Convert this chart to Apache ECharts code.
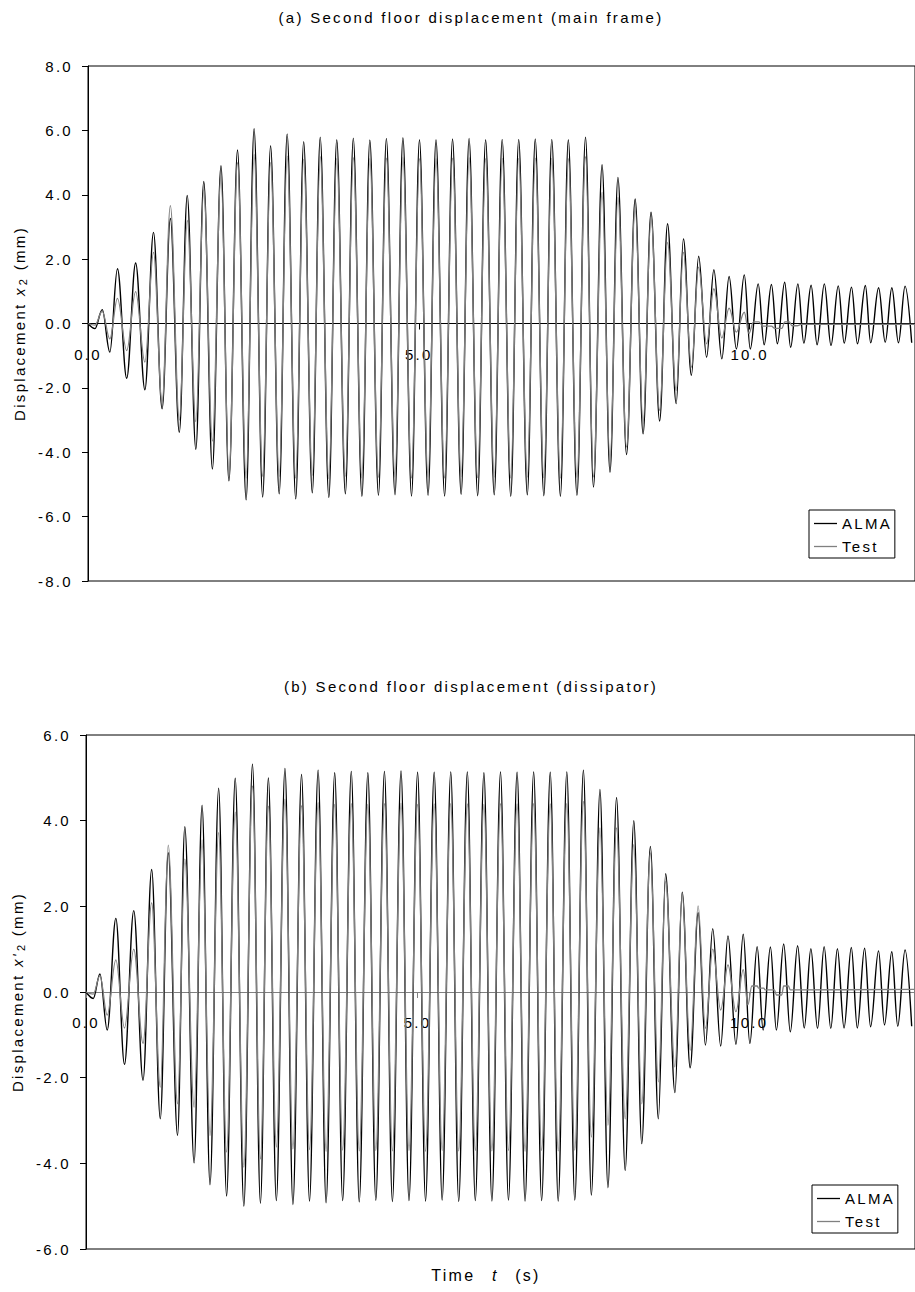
<!DOCTYPE html>
<html>
<head>
<meta charset="utf-8">
<script src="https://cdn.jsdelivr.net/npm/echarts@6/dist/echarts.min.js"></script>
<style>
html,body{margin:0;padding:0;background:#fff;}
#c{width:915px;height:1292px;}
#c text{letter-spacing:2.3px;}
</style>
</head>
<body>
<div id="c"></div>
<script>
// ---- data: [time (s), displacement (mm)] at extrema ----
const TITLE_A = '(a) Second floor displacement (main frame)';
const TITLE_B = '(b) Second floor displacement (dissipator)';
const SERIES_NAMES = ['ALMA', 'Test'];
const X_TICKS = [0, 5, 10];

const A_ALMA = [[0,0],[0.105,-0.16],[0.215,0.43],[0.33,-0.89],[0.445,1.70],[0.585,-1.70],[0.72,1.88],[0.86,-2.06],[0.99,2.83],[1.12,-2.65],[1.245,3.26],[1.38,-3.38],[1.50,3.98],[1.63,-3.91],[1.75,4.41],[1.88,-4.52],[2.01,4.90],[2.13,-4.89],[2.26,5.39],[2.39,-5.48],[2.51,6.05],[2.64,-5.39],[2.76,5.52],[2.89,-5.29],[3.01,5.89],[3.14,-5.45],[3.26,5.65],[3.39,-5.26],[3.51,5.79],[3.64,-5.41],[3.76,5.71],[3.89,-5.29],[4.01,5.76],[4.14,-5.37],[4.26,5.70],[4.39,-5.34],[4.51,5.75],[4.64,-5.32],[4.76,5.77],[4.89,-5.36],[5.01,5.71],[5.14,-5.34],[5.26,5.71],[5.39,-5.36],[5.51,5.73],[5.64,-5.31],[5.76,5.75],[5.89,-5.35],[6.01,5.71],[6.14,-5.32],[6.26,5.72],[6.39,-5.37],[6.51,5.72],[6.64,-5.32],[6.76,5.73],[6.89,-5.35],[7.01,5.72],[7.14,-5.37],[7.26,5.71],[7.39,-5.34],[7.52,5.79],[7.64,-5.08],[7.77,4.93],[7.89,-4.62],[8.01,4.54],[8.14,-4.07],[8.27,3.87],[8.39,-3.43],[8.51,3.46],[8.64,-3.03],[8.76,3.10],[8.89,-2.49],[9.00,2.63],[9.12,-1.61],[9.23,2.09],[9.35,-1.05],[9.46,1.67],[9.58,-1.10],[9.69,1.46],[9.80,-0.79],[9.92,1.51],[10.01,-0.79],[10.13,1.23],[10.22,-0.66],[10.33,1.21],[10.42,-0.63],[10.53,1.28],[10.62,-0.74],[10.73,1.23],[10.82,-0.61],[10.93,1.19],[11.02,-0.66],[11.13,1.23],[11.23,-0.68],[11.34,1.17],[11.43,-0.61],[11.54,1.13],[11.63,-0.63],[11.75,1.18],[11.83,-0.60],[11.95,1.11],[12.05,-0.58],[12.15,1.11],[12.25,-0.60],[12.35,1.16],[12.45,-0.60]];

const A_TEST = [[0,0],[0.105,-0.05],[0.215,0.38],[0.33,-0.48],[0.445,0.78],[0.585,-0.84],[0.72,0.99],[0.86,-1.20],[0.99,2.21],[1.12,-2.45],[1.245,3.66],[1.38,-3.00],[1.50,3.20],[1.63,-3.05],[1.75,4.15],[1.88,-3.65],[2.01,4.60],[2.13,-4.75],[2.26,5.00],[2.39,-4.80],[2.51,5.25],[2.64,-4.75],[2.76,5.00],[2.89,-4.75],[3.01,5.20],[3.14,-4.80],[3.26,5.10],[3.39,-4.72],[3.51,5.18],[3.64,-4.82],[3.76,5.12],[3.89,-4.75],[4.01,5.15],[4.14,-4.80],[4.26,5.12],[4.39,-4.78],[4.51,5.14],[4.64,-4.77],[4.76,5.16],[4.89,-4.80],[5.01,5.12],[5.14,-4.78],[5.26,5.12],[5.39,-4.80],[5.51,5.14],[5.64,-4.76],[5.76,5.15],[5.89,-4.79],[6.01,5.12],[6.14,-4.77],[6.26,5.13],[6.39,-4.80],[6.51,5.13],[6.64,-4.77],[6.76,5.14],[6.89,-4.79],[7.01,5.13],[7.14,-4.80],[7.26,5.12],[7.39,-4.78],[7.52,5.18],[7.64,-4.77],[7.77,4.08],[7.89,-4.30],[8.01,3.92],[8.14,-3.84],[8.27,3.61],[8.39,-3.12],[8.51,3.30],[8.64,-2.70],[8.76,2.52],[8.89,-2.08],[9.00,2.21],[9.12,-1.36],[9.23,1.75],[9.35,-0.63],[9.46,1.08],[9.58,-0.45],[9.69,0.48],[9.80,-0.27],[9.92,0.35],[9.99,-0.31],[10.06,0.05],[10.14,0.05],[10.20,-0.08],[10.33,-0.08],[10.38,-0.15],[10.49,-0.15],[10.53,0.05],[10.60,0.05],[10.64,-0.07],[10.72,-0.07],[10.78,-0.03],[12.50,-0.03]];

const B_ALMA = [[0,0],[0.11,-0.15],[0.21,0.42],[0.32,-0.89],[0.45,1.72],[0.58,-1.69],[0.72,1.90],[0.86,-2.06],[0.99,2.86],[1.12,-2.96],[1.24,3.25],[1.38,-3.35],[1.49,3.86],[1.63,-3.99],[1.75,4.36],[1.87,-4.50],[2.00,4.76],[2.12,-4.76],[2.25,4.99],[2.38,-5.00],[2.51,5.32],[2.63,-4.93],[2.75,5.00],[2.87,-4.87],[3.00,5.22],[3.12,-4.96],[3.25,5.08],[3.37,-4.88],[3.50,5.18],[3.62,-4.92],[3.75,5.12],[3.87,-4.87],[4.00,5.15],[4.12,-4.90],[4.25,5.12],[4.37,-4.86],[4.50,5.15],[4.62,-4.89],[4.75,5.16],[4.87,-4.87],[5.00,5.13],[5.12,-4.88],[5.25,5.13],[5.37,-4.86],[5.50,5.14],[5.62,-4.89],[5.75,5.14],[5.87,-4.87],[6.00,5.12],[6.12,-4.88],[6.25,5.14],[6.37,-4.86],[6.50,5.13],[6.62,-4.88],[6.75,5.14],[6.87,-4.87],[7.00,5.13],[7.12,-4.88],[7.25,5.14],[7.37,-4.86],[7.50,5.18],[7.62,-4.74],[7.75,4.73],[7.87,-4.57],[8.00,4.54],[8.13,-4.17],[8.26,4.00],[8.38,-3.54],[8.51,3.40],[8.63,-2.96],[8.74,2.76],[8.88,-2.35],[8.99,2.33],[9.11,-1.77],[9.23,1.85],[9.34,-1.24],[9.45,1.48],[9.57,-1.26],[9.68,1.31],[9.80,-1.22],[9.91,1.35],[10.01,-1.20],[10.12,1.06],[10.21,-0.89],[10.32,1.05],[10.41,-0.89],[10.52,1.12],[10.62,-0.93],[10.73,1.08],[10.83,-0.84],[10.93,1.01],[11.03,-0.85],[11.13,1.06],[11.23,-0.85],[11.33,1.01],[11.43,-0.84],[11.54,1.04],[11.63,-0.84],[11.74,1.02],[11.83,-0.81],[11.95,0.96],[12.04,-0.77],[12.15,0.94],[12.24,-0.80],[12.35,0.98],[12.45,-0.80]];

const B_TEST = [[0,0],[0.11,-0.05],[0.21,0.38],[0.32,-0.54],[0.45,0.75],[0.58,-0.84],[0.72,1.00],[0.86,-1.20],[0.99,2.08],[1.12,-2.22],[1.24,3.43],[1.38,-2.61],[1.49,3.10],[1.63,-2.69],[1.75,3.55],[1.87,-3.35],[2.00,3.72],[2.12,-3.74],[2.25,4.20],[2.38,-4.09],[2.51,4.81],[2.63,-3.90],[2.75,4.34],[2.87,-3.62],[3.00,4.50],[3.12,-3.66],[3.25,4.35],[3.37,-3.68],[3.50,4.42],[3.62,-3.72],[3.75,4.38],[3.87,-3.69],[4.00,4.40],[4.12,-3.71],[4.25,4.38],[4.37,-3.70],[4.50,4.40],[4.62,-3.71],[4.75,4.41],[4.87,-3.70],[5.00,4.38],[5.12,-3.72],[5.25,4.39],[5.37,-3.70],[5.50,4.40],[5.62,-3.71],[5.75,4.39],[5.87,-3.70],[6.00,4.38],[6.12,-3.71],[6.25,4.40],[6.37,-3.70],[6.50,4.39],[6.62,-3.72],[6.75,4.40],[6.87,-3.70],[7.00,4.39],[7.12,-3.71],[7.25,4.40],[7.37,-3.69],[7.50,4.45],[7.62,-3.39],[7.75,3.83],[7.87,-3.11],[8.00,3.83],[8.13,-2.96],[8.26,3.44],[8.38,-2.61],[8.51,3.25],[8.63,-2.10],[8.74,2.58],[8.88,-1.75],[8.99,2.31],[9.11,-1.36],[9.23,2.01],[9.34,-0.85],[9.45,1.00],[9.57,-0.42],[9.68,0.63],[9.80,-0.46],[9.91,0.52],[9.98,-0.30],[10.04,0.14],[10.12,0.14],[10.14,0.09],[10.22,0.09],[10.24,0.05],[10.38,0.05],[10.41,-0.07],[10.49,-0.07],[10.52,0.14],[10.59,0.14],[10.62,0.05],[10.72,0.05],[12.50,0.06]];

// ---- presentation ----
const FONT = "'Liberation Sans', Arial, sans-serif";
const LS = 2.3;          // letter spacing (px) applied by CSS to SVG text
const FS = 15;
const SPACE_W = 4.2;     // width of a space at 15px
function pr(n, extra) { return [0, n * LS + (extra || 0), 0, 0]; }
function base(extra) {
  return Object.assign({fontSize: FS, fontFamily: FONT, color: '#000', fontWeight: 'normal', align: 'left'}, extra || {});
}

function yName(prime) {
  return {
    name: '{n|Displacement}{i|' + (prime ? "x'" : 'x') + '}{s|2}{m|(mm)}',
    nameLocation: 'middle', nameRotate: 90, nameGap: 60,
    nameTextStyle: {
      rich: {
        n: base({padding: pr(12, SPACE_W + LS)}),
        i: base({fontStyle: 'italic', padding: pr(prime ? 2 : 1, 1)}),
        s: base({fontSize: 11, padding: [6, LS + SPACE_W + LS, 0, 0]}),
        m: base({padding: pr(4)})
      }
    }
  };
}

function xAxis(gi, lineColor, half) {
  return {
    gridIndex: gi, type: 'value', min: 0, max: 12.5, interval: 5,
    position: 'bottom', offset: -half,
    axisLine: {show: true, onZero: false, lineStyle: {color: lineColor, width: 1}},
    axisTick: {show: true, length: 6, lineStyle: {color: lineColor, width: 1}},
    splitLine: {show: false},
    axisLabel: {margin: 23, fontSize: FS, fontFamily: FONT, color: '#000',
      showMaxLabel: false,
      formatter: v => (X_TICKS.indexOf(v) >= 0 ? v.toFixed(1) : '')}
  };
}

function yAxis(gi, lim) {
  return Object.assign({
    gridIndex: gi, type: 'value', min: -lim, max: lim, interval: 2,
    axisLine: {show: true, onZero: false, lineStyle: {color: '#000', width: 1}},
    axisTick: {show: true, length: 6, lineStyle: {color: '#000', width: 1}},
    splitLine: {show: false},
    axisLabel: {margin: 15, fontSize: FS, fontFamily: FONT, color: '#000', padding: [3, 0, 0, 0],
      formatter: v => v.toFixed(1)}
  }, yName(gi === 1));
}

function legend(left, top) {
  return {
    data: SERIES_NAMES, orient: 'vertical', left: left, top: top,
    icon: 'rect', itemWidth: 23, itemHeight: 1.3, itemGap: 8,
    padding: [6, 12, 4, 5], borderColor: '#000', borderWidth: 1,
    selectedMode: false,
    textStyle: {fontSize: FS, fontFamily: FONT, color: '#000'}
  };
}

function series(name, data, gi, color, width) {
  return {
    name: name, type: 'line', xAxisIndex: gi, yAxisIndex: gi, data: data,
    smooth: 0.36, smoothMonotone: 'x', symbol: 'none', showSymbol: false,
    color: color, lineStyle: {width: width, color: color}, z: name === 'Test' ? 3 : 2,
    animation: false
  };
}

const chart = echarts.init(document.getElementById('c'), null, {renderer: 'svg'});
chart.setOption({
  animation: false,
  backgroundColor: '#fff',
  textStyle: {fontFamily: FONT, color: '#000'},
  title: [
    {text: TITLE_A, left: 471, top: 10, textAlign: 'center', padding: 0,
     textStyle: {fontSize: FS, fontWeight: 'normal', fontFamily: FONT, color: '#000'}},
    {text: TITLE_B, left: 471, top: 679, textAlign: 'center', padding: 0,
     textStyle: {fontSize: FS, fontWeight: 'normal', fontFamily: FONT, color: '#000'}},
    {text: '{n|Time}{i|t}{m|(s)}', left: 486, top: 1267, textAlign: 'center', padding: 0,
     textStyle: {fontWeight: 'normal', rich: {
       n: base({fontSize: 16, padding: pr(4, SPACE_W + LS + 10)}),
       i: base({fontSize: 16, fontStyle: 'italic', padding: pr(1, SPACE_W + LS + 10)}),
       m: base({fontSize: 16, padding: pr(3)})
     }}}
  ],
  legend: [legend(809, 510), legend(812, 1185)],
  grid: [
    {left: 88, top: 66, width: 834, height: 515, show: true, borderColor: '#000', borderWidth: 1, backgroundColor: 'transparent'},
    {left: 86, top: 735, width: 836, height: 514, show: true, borderColor: '#000', borderWidth: 1, backgroundColor: 'transparent'}
  ],
  xAxis: [xAxis(0, '#000', 257.5), xAxis(1, '#808080', 257)],
  yAxis: [yAxis(0, 8), yAxis(1, 6)],
  series: [
    series('ALMA', A_ALMA, 0, '#000', 1.4),
    series('Test', A_TEST, 0, '#808080', 1.3),
    series('ALMA', B_ALMA, 1, '#000', 1.4),
    series('Test', B_TEST, 1, '#808080', 1.3)
  ]
});
</script>
</body>
</html>
